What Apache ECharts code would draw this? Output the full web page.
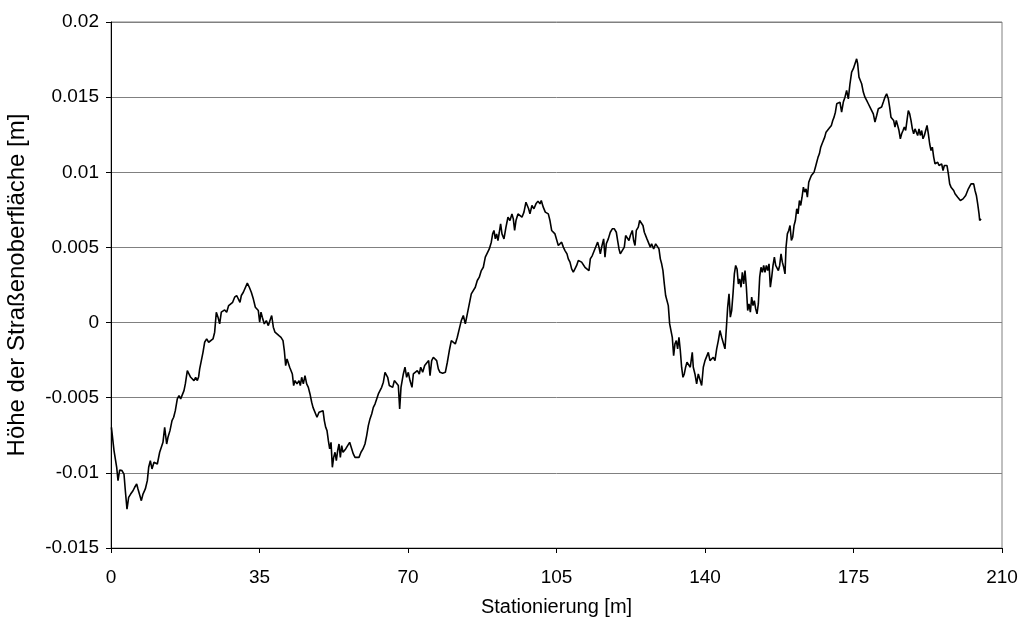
<!DOCTYPE html>
<html>
<head>
<meta charset="utf-8">
<script src="https://cdn.jsdelivr.net/npm/echarts@6/dist/echarts.min.js"></script>
<style>
  html, body { margin: 0; padding: 0; background: #ffffff; }
  #chart { width: 1022px; height: 623px; }
</style>
</head>
<body>
<div id="chart"></div>
<script>
// Longitudinal road profile: station along the road [m] and surface height [m]
const station = [
  0.10, 0.71, 1.02, 1.34, 1.65, 2.04, 2.59, 3.06, 3.38, 3.77, 4.16, 4.63, 5.18, 5.58, 6.05, 6.36, 6.83, 7.15, 7.54, 8.09,
  8.56, 8.88, 9.27, 9.66, 10.13, 10.53, 10.92, 11.47, 11.86, 12.25, 12.65, 13.12, 13.43, 13.90, 14.38, 14.77, 15.16, 15.63, 16.03, 16.42,
  16.81, 17.20, 17.52, 17.99, 18.38, 18.78, 19.25, 19.56, 19.95, 20.35, 20.66, 20.90, 21.29, 21.68, 22.07, 22.55, 23.02, 23.49, 24.04, 24.43,
  24.82, 25.22, 25.61, 26.00, 26.40, 26.79, 27.26, 27.73, 28.20, 28.67, 29.14, 29.62, 30.09, 30.40, 30.72, 31.19, 31.66, 32.13, 32.60, 33.07,
  33.54, 34.02, 34.33, 34.72, 35.04, 35.35, 35.66, 36.13, 36.61, 37.08, 37.47, 37.87, 38.26, 38.65, 39.12, 39.59, 40.07, 40.54, 40.85, 41.17,
  41.48, 41.79, 42.11, 42.42, 42.74, 43.05, 43.37, 43.84, 44.31, 44.62, 44.94, 45.33, 45.72, 46.12, 46.51, 46.90, 47.30, 47.61, 48.08, 48.55,
  49.03, 49.50, 49.97, 50.28, 50.60, 50.91, 51.23, 51.54, 51.86, 52.17, 52.48, 52.80, 53.11, 53.42, 53.74, 54.05, 54.37, 54.68, 54.99, 55.31,
  55.78, 56.25, 56.72, 57.11, 57.51, 57.98, 58.45, 58.92, 59.39, 59.86, 60.26, 60.65, 61.04, 61.44, 61.83, 62.22, 62.62, 63.01, 63.40, 63.79,
  64.19, 64.58, 64.90, 65.21, 65.60, 65.99, 66.39, 66.78, 67.25, 67.72, 68.04, 68.35, 68.90, 69.29, 69.68, 70.07, 70.47, 70.94, 71.26, 71.73,
  72.20, 72.67, 72.99, 73.46, 73.93, 74.40, 74.87, 75.19, 75.58, 75.97, 76.36, 76.76, 77.15, 77.54, 78.17, 78.80, 79.27, 79.74, 80.21, 80.68,
  81.15, 81.62, 82.09, 82.56, 83.04, 83.51, 83.98, 84.45, 84.92, 85.39, 85.86, 86.33, 86.80, 87.28, 87.75, 88.22, 88.69, 89.16, 89.63, 89.95,
  90.26, 90.58, 90.89, 91.20, 91.52, 91.83, 92.15, 92.62, 93.09, 93.56, 94.03, 94.50, 94.82, 95.13, 95.45, 95.92, 96.39, 96.86, 97.33, 97.80,
  98.12, 98.43, 98.74, 99.21, 99.68, 100.16, 100.63, 101.10, 101.41, 101.88, 102.36, 102.83, 103.07, 103.46, 103.86, 104.25, 104.64, 105.11, 105.43, 105.82,
  106.21, 106.61, 107.00, 107.47, 107.78, 108.18, 108.57, 108.96, 109.35, 109.75, 110.14, 110.53, 110.92, 111.32, 111.71, 112.18, 112.65, 112.97, 113.44, 113.91,
  114.38, 114.70, 115.01, 115.33, 115.64, 116.11, 116.43, 116.74, 117.21, 117.68, 118.15, 118.63, 119.10, 119.41, 119.73, 120.04, 120.51, 120.98, 121.30, 121.77,
  122.08, 122.40, 122.87, 123.18, 123.50, 123.81, 124.28, 124.60, 125.07, 125.38, 125.70, 126.01, 126.32, 126.64, 127.11, 127.42, 127.90, 128.37, 128.84, 129.15,
  129.47, 129.78, 130.09, 130.41, 130.72, 131.04, 131.35, 131.67, 131.98, 132.29, 132.61, 132.92, 133.24, 133.55, 133.86, 134.18, 134.49, 134.81, 135.12, 135.43,
  135.75, 136.22, 136.53, 137.00, 137.24, 137.63, 138.03, 138.42, 138.81, 139.21, 139.60, 140.00, 140.39, 140.78, 141.17, 141.57, 141.96, 142.35, 142.75, 143.14,
  143.53, 143.93, 144.32, 144.71, 145.10, 145.34, 145.66, 145.97, 146.29, 146.60, 146.92, 147.23, 147.55, 147.86, 148.17, 148.49, 148.80, 149.12, 149.43, 149.75,
  150.06, 150.37, 150.69, 151.00, 151.32, 151.63, 151.95, 152.26, 152.57, 152.89, 153.20, 153.52, 153.83, 154.14, 154.46, 154.77, 155.09, 155.40, 155.72, 156.03,
  156.35, 156.66, 156.98, 157.29, 157.60, 157.92, 158.23, 158.55, 158.86, 159.10, 159.41, 159.73, 160.04, 160.36, 160.67, 160.99, 161.30, 161.62, 161.93, 162.25,
  162.56, 162.87, 163.19, 163.50, 163.82, 164.13, 164.45, 164.76, 165.07, 165.39, 165.70, 166.02, 166.33, 166.65, 166.96, 167.28, 167.59, 167.90, 168.22, 168.53,
  168.85, 169.16, 169.48, 169.79, 170.11, 170.42, 170.73, 171.05, 171.36, 171.81, 172.20, 172.60, 172.99, 173.38, 173.78, 174.17, 174.56, 174.96, 175.35, 175.74,
  175.98, 176.29, 176.61, 176.92, 177.31, 177.70, 178.10, 178.49, 178.88, 179.28, 179.67, 180.06, 180.46, 180.85, 181.24, 181.63, 182.03, 182.42, 182.81, 183.21,
  183.52, 183.83, 184.15, 184.46, 184.78, 185.09, 185.41, 185.72, 186.04, 186.35, 186.67, 186.98, 187.29, 187.61, 187.92, 188.24, 188.55, 188.87, 189.18, 189.50,
  189.81, 190.12, 190.44, 190.75, 191.07, 191.38, 191.70, 192.01, 192.33, 192.64, 192.95, 193.27, 193.58, 193.90, 194.21, 194.53, 194.84, 195.16, 195.47, 195.78,
  196.10, 196.41, 196.73, 197.04, 197.36, 197.67, 197.99, 198.30, 198.61, 198.93, 199.24, 199.56, 199.87, 200.19, 200.50, 200.82, 201.13, 201.44, 201.76, 202.07,
  202.39, 202.70, 203.02, 203.33, 203.64, 203.96, 204.27, 204.59, 204.74, 205.06
];

const height = [
  -0.00697, -0.00852, -0.00863, -0.00963, -0.01052, -0.00981, -0.00985, -0.01008, -0.01119, -0.01241, -0.01163, -0.01141, -0.01119, -0.01096, -0.01074, -0.01107, -0.01096, -0.01185, -0.01141, -0.01107,
  -0.01052, -0.00963, -0.00919, -0.00974, -0.00930, -0.00919, -0.00941, -0.00863, -0.00830, -0.00797, -0.00697, -0.00808, -0.00763, -0.00719, -0.00652, -0.00630, -0.00586, -0.00508, -0.00486, -0.00508,
  -0.00497, -0.00453, -0.00408, -0.00320, -0.00331, -0.00364, -0.00353, -0.00386, -0.00364, -0.00386, -0.00360, -0.00308, -0.00253, -0.00198, -0.00131, -0.00109, -0.00131, -0.00120, -0.00109, -0.00064,
  0.00069, 0.00036, -0.00009, 0.00069, 0.00058, 0.00084, 0.00069, 0.00113, 0.00124, 0.00135, 0.00169, 0.00180, 0.00169, 0.00135, 0.00180, 0.00202, 0.00191, 0.00262, 0.00235, 0.00202,
  0.00158, 0.00102, 0.00102, 0.00080, 0.00002, 0.00069, 0.00036, -0.00009, 0.00013, -0.00020, 0.00013, 0.00047, -0.00031, -0.00064, -0.00064, -0.00087, -0.00098, -0.00120, -0.00186, -0.00286,
  -0.00242, -0.00231, -0.00297, -0.00286, -0.00342, -0.00419, -0.00386, -0.00408, -0.00386, -0.00419, -0.00364, -0.00408, -0.00353, -0.00408, -0.00431, -0.00475, -0.00530, -0.00564, -0.00564, -0.00630,
  -0.00597, -0.00586, -0.00586, -0.00652, -0.00697, -0.00719, -0.00786, -0.00841, -0.00797, -0.00963, -0.00897, -0.00863, -0.00919, -0.00852, -0.00808, -0.00897, -0.00819, -0.00863, -0.00874, -0.00841,
  -0.00819, -0.00797, -0.00808, -0.00874, -0.00897, -0.00897, -0.00897, -0.00863, -0.00841, -0.00808, -0.00752, -0.00686, -0.00641, -0.00608, -0.00564, -0.00542, -0.00508, -0.00475, -0.00453, -0.00431,
  -0.00397, -0.00331, -0.00320, -0.00364, -0.00419, -0.00408, -0.00431, -0.00386, -0.00386, -0.00419, -0.00575, -0.00431, -0.00342, -0.00297, -0.00364, -0.00331, -0.00386, -0.00431, -0.00342, -0.00353,
  -0.00320, -0.00342, -0.00297, -0.00331, -0.00286, -0.00275, -0.00253, -0.00353, -0.00253, -0.00231, -0.00220, -0.00253, -0.00308, -0.00331, -0.00337, -0.00331, -0.00264, -0.00186, -0.00120, -0.00109,
  -0.00142, -0.00098, -0.00042, 0.00013, 0.00047, -0.00009, 0.00058, 0.00124, 0.00191, 0.00202, 0.00235, 0.00280, 0.00302, 0.00346, 0.00368, 0.00435, 0.00446, 0.00490, 0.00535, 0.00590,
  0.00613, 0.00557, 0.00590, 0.00546, 0.00601, 0.00657, 0.00590, 0.00557, 0.00635, 0.00701, 0.00679, 0.00723, 0.00690, 0.00613, 0.00679, 0.00723, 0.00735, 0.00701, 0.00735, 0.00801,
  0.00812, 0.00757, 0.00723, 0.00779, 0.00757, 0.00790, 0.00808, 0.00790, 0.00812, 0.00768, 0.00735, 0.00723, 0.00723, 0.00679, 0.00613, 0.00624, 0.00590, 0.00579, 0.00513, 0.00524,
  0.00535, 0.00502, 0.00479, 0.00457, 0.00424, 0.00402, 0.00357, 0.00335, 0.00357, 0.00380, 0.00413, 0.00424, 0.00402, 0.00413, 0.00368, 0.00380, 0.00346, 0.00424, 0.00446, 0.00457,
  0.00513, 0.00535, 0.00502, 0.00457, 0.00502, 0.00557, 0.00435, 0.00524, 0.00557, 0.00601, 0.00624, 0.00624, 0.00601, 0.00546, 0.00490, 0.00457, 0.00468, 0.00502, 0.00579, 0.00590,
  0.00546, 0.00579, 0.00613, 0.00546, 0.00513, 0.00613, 0.00635, 0.00679, 0.00679, 0.00646, 0.00601, 0.00590, 0.00557, 0.00546, 0.00502, 0.00524, 0.00490, 0.00524, 0.00513, 0.00490,
  0.00424, 0.00391, 0.00346, 0.00257, 0.00180, 0.00169, 0.00113, -0.00009, -0.00053, -0.00098, -0.00220, -0.00142, -0.00120, -0.00175, -0.00098, -0.00186, -0.00297, -0.00364, -0.00342, -0.00297,
  -0.00264, -0.00264, -0.00297, -0.00198, -0.00297, -0.00342, -0.00408, -0.00342, -0.00353, -0.00419, -0.00297, -0.00253, -0.00242, -0.00198, -0.00253, -0.00264, -0.00231, -0.00253, -0.00175, -0.00120,
  -0.00053, -0.00098, -0.00109, -0.00175, -0.00009, 0.00102, 0.00191, 0.00036, 0.00080, 0.00191, 0.00324, 0.00380, 0.00357, 0.00257, 0.00291, 0.00235, 0.00335, 0.00257, 0.00346, 0.00235,
  0.00080, 0.00124, 0.00069, 0.00169, 0.00113, 0.00146, 0.00091, 0.00058, 0.00124, 0.00302, 0.00368, 0.00335, 0.00380, 0.00335, 0.00380, 0.00346, 0.00391, 0.00235, 0.00302, 0.00380,
  0.00435, 0.00380, 0.00368, 0.00346, 0.00380, 0.00457, 0.00402, 0.00368, 0.00324, 0.00502, 0.00590, 0.00613, 0.00646, 0.00546, 0.00568, 0.00646, 0.00679, 0.00757, 0.00723, 0.00812,
  0.00779, 0.00834, 0.00901, 0.00868, 0.00890, 0.00834, 0.00934, 0.00957, 0.00979, 0.00968, 0.01001, 0.01034, 0.01067, 0.01101, 0.01123, 0.01167, 0.01190, 0.01212, 0.01234, 0.01267,
  0.01278, 0.01289, 0.01301, 0.01312, 0.01345, 0.01367, 0.01400, 0.01456, 0.01467, 0.01467, 0.01400, 0.01467, 0.01500, 0.01545, 0.01489, 0.01589, 0.01667, 0.01689, 0.01722, 0.01755,
  0.01722, 0.01633, 0.01611, 0.01589, 0.01534, 0.01500, 0.01478, 0.01456, 0.01434, 0.01445, 0.01389, 0.01334, 0.01378, 0.01423, 0.01411, 0.01434, 0.01467, 0.01500, 0.01522, 0.01489,
  0.01434, 0.01367, 0.01356, 0.01345, 0.01301, 0.01345, 0.01312, 0.01278, 0.01223, 0.01256, 0.01278, 0.01301, 0.01278, 0.01345, 0.01411, 0.01389, 0.01345, 0.01289, 0.01256, 0.01289,
  0.01278, 0.01245, 0.01289, 0.01245, 0.01278, 0.01223, 0.01245, 0.01278, 0.01312, 0.01256, 0.01190, 0.01145, 0.01167, 0.01101, 0.01056, 0.01045, 0.01067, 0.01045, 0.01034, 0.01056,
  0.01012, 0.01045, 0.01034, 0.01045, 0.00990, 0.00923, 0.00901, 0.00912, 0.00879, 0.00857, 0.00868, 0.00834, 0.00846, 0.00812, 0.00801, 0.00823, 0.00812, 0.00846, 0.00834, 0.00890,
  0.00901, 0.00923, 0.00934, 0.00923, 0.00879, 0.00846, 0.00790, 0.00723, 0.00679, 0.00690
];

// Axis ranges and tick spacing
const xTicks = { min: 0, max: 210, step: 35 };
const yTicks = { min: -0.015, max: 0.02, step: 0.005 };

const xTitle = 'Stationierung [m]';
const yTitle = 'Höhe der Straßenoberfläche [m]';

const profile = station.map((s, i) => [s, height[i]]);

const font = "'Liberation Sans', Arial, sans-serif";
const chart = echarts.init(document.getElementById('chart'), null, { renderer: 'canvas' });

chart.setOption({
  backgroundColor: '#ffffff',
  animation: false,
  grid: {
    left: 111, right: 20, top: 22, bottom: 75,
    containLabel: false, outerBoundsMode: 'none',
    show: true, borderColor: '#808080', borderWidth: 1, backgroundColor: 'transparent'
  },
  xAxis: {
    type: 'value',
    min: xTicks.min, max: xTicks.max, interval: xTicks.step,
    name: xTitle, nameLocation: 'middle', nameGap: 49,
    nameTextStyle: { fontFamily: font, fontSize: 20, color: '#000' },
    axisLine: { show: true, onZero: false, lineStyle: { color: '#000', width: 1 } },
    axisTick: { show: true, inside: false, length: 5, lineStyle: { color: '#000' } },
    axisLabel: { fontFamily: font, fontSize: 19, color: '#000', margin: 20 },
    splitLine: { show: false }
  },
  yAxis: {
    type: 'value',
    min: yTicks.min, max: yTicks.max, interval: yTicks.step,
    name: yTitle, nameLocation: 'middle', nameGap: 82, nameRotate: 90,
    nameTextStyle: { fontFamily: font, fontSize: 24, color: '#000' },
    axisLine: { show: true, onZero: false, lineStyle: { color: '#000', width: 1 } },
    axisTick: { show: true, inside: false, length: 5, lineStyle: { color: '#000' } },
    axisLabel: { fontFamily: font, fontSize: 19, color: '#000', margin: 12 },
    splitLine: { show: true, lineStyle: { color: '#808080', width: 1 } }
  },
  series: [{
    type: 'line',
    data: profile,
    showSymbol: false,
    symbol: 'none',
    smooth: false,
    lineStyle: { color: '#000000', width: 1.6 },
    silent: true
  }]
});
</script>
</body>
</html>
